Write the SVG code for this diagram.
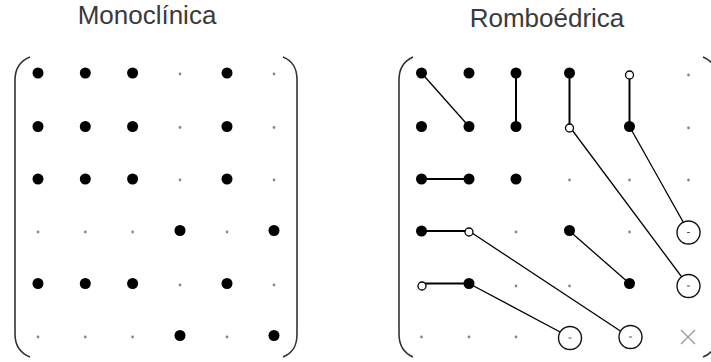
<svg xmlns="http://www.w3.org/2000/svg" width="711" height="362" viewBox="0 0 711 362">
<style>
.t{font-family:"Liberation Sans",Arial,sans-serif;font-size:26px;fill:#3a3a3a;text-anchor:middle}
.b{fill:#000}
.s{fill:#888}
.o{fill:#fff;stroke:#000;stroke-width:1.3}
.c{fill:#fff;stroke:#111;stroke-width:1.4}
.d{stroke:#555;stroke-width:1}
.p{fill:none;stroke:#333;stroke-width:1.6}
.l{stroke:#000;stroke-width:1.3;fill:none}
.lh{stroke:#000;stroke-width:2;fill:none}
.x{stroke:#999;stroke-width:1.2}
</style>
<rect width="711" height="362" fill="#fff"/>
<text class="t" x="147" y="24">Monoclínica</text>
<text class="t" x="547" y="27">Romboédrica</text>

<g id="brackets">
<path class="p" d="M30,57 C20,61 15,68 15,80 V334 C15,346 20,353 30,357"/>
<path class="p" d="M283,57 C293,61 297,68 297,80 V334 C297,346 293,353 283,357"/>
<path class="p" d="M413,57 C404,61 399,68 399,80 V334 C399,346 404,353 413,357"/>
<path class="p" d="M703,57 C713,61 717,68 717,80 V334 C717,346 713,353 703,357"/>
</g>

<g id="mono">
<circle class="b" cx="38" cy="73" r="5.5"/><circle class="b" cx="85.3" cy="73" r="5.5"/><circle class="b" cx="132.6" cy="73" r="5.5"/><circle class="s" cx="180" cy="74" r="1.4"/><circle class="b" cx="227" cy="73" r="5.5"/><circle class="s" cx="274" cy="74" r="1.4"/>
<circle class="b" cx="38" cy="126.5" r="5.5"/><circle class="b" cx="85.3" cy="126.5" r="5.5"/><circle class="b" cx="132.6" cy="126.5" r="5.5"/><circle class="s" cx="180" cy="127.5" r="1.4"/><circle class="b" cx="227" cy="126.5" r="5.5"/><circle class="s" cx="274" cy="127.5" r="1.4"/>
<circle class="b" cx="38" cy="179" r="5.5"/><circle class="b" cx="85.3" cy="179" r="5.5"/><circle class="b" cx="132.6" cy="179" r="5.5"/><circle class="s" cx="180" cy="180" r="1.4"/><circle class="b" cx="227" cy="179" r="5.5"/><circle class="s" cx="274" cy="180" r="1.4"/>
<circle class="s" cx="38" cy="232" r="1.4"/><circle class="s" cx="85.3" cy="232" r="1.4"/><circle class="s" cx="132.6" cy="232" r="1.4"/><circle class="b" cx="180" cy="230.5" r="5.5"/><circle class="s" cx="227" cy="232" r="1.4"/><circle class="b" cx="274" cy="230.5" r="5.5"/>
<circle class="b" cx="38" cy="283.5" r="5.5"/><circle class="b" cx="85.3" cy="283.5" r="5.5"/><circle class="b" cx="132.6" cy="283.5" r="5.5"/><circle class="s" cx="180" cy="285" r="1.4"/><circle class="b" cx="227" cy="283.5" r="5.5"/><circle class="s" cx="274" cy="285" r="1.4"/>
<circle class="s" cx="38" cy="337" r="1.4"/><circle class="s" cx="85.3" cy="337" r="1.4"/><circle class="s" cx="132.6" cy="337" r="1.4"/><circle class="b" cx="180" cy="335.5" r="5.5"/><circle class="s" cx="227" cy="337" r="1.4"/><circle class="b" cx="274" cy="335.5" r="5.5"/>
</g>

<g id="connectors">
<line class="l" x1="421.5" y1="73" x2="469" y2="126.5"/>
<line class="lh" x1="516" y1="73" x2="516" y2="126.5"/>
<line class="lh" x1="569.5" y1="73" x2="569.5" y2="126.5"/>
<line class="lh" x1="629.5" y1="73" x2="629.5" y2="126.5"/>
<line class="l" x1="569.5" y1="126.5" x2="688.5" y2="286"/>
<line class="l" x1="629.5" y1="126.5" x2="688.5" y2="231.5"/>
<line class="lh" x1="421.5" y1="179" x2="469" y2="179"/>
<line class="lh" x1="421.5" y1="231" x2="469" y2="231"/>
<line class="l" x1="469" y1="231" x2="629.5" y2="337"/>
<line class="l" x1="569.5" y1="231" x2="629.5" y2="283.5"/>
<line class="lh" x1="421.5" y1="283.5" x2="469" y2="283.5"/>
<line class="l" x1="469" y1="283.5" x2="569.5" y2="337"/>
</g>

<g id="rombo">
<circle class="b" cx="421.5" cy="73" r="5.5"/><circle class="b" cx="469" cy="73" r="5.5"/><circle class="b" cx="516" cy="73" r="5.5"/><circle class="b" cx="569.5" cy="73" r="5.5"/><circle class="o" cx="629.5" cy="75" r="4"/><circle class="s" cx="688.5" cy="75" r="1.4"/>
<circle class="b" cx="421.5" cy="126.5" r="5.5"/><circle class="b" cx="469" cy="126.5" r="5.5"/><circle class="b" cx="516" cy="126.5" r="5.5"/><circle class="o" cx="569.5" cy="128" r="4"/><circle class="b" cx="629.5" cy="126.5" r="5.5"/><circle class="s" cx="688.5" cy="128" r="1.4"/>
<circle class="b" cx="421.5" cy="179" r="5.5"/><circle class="b" cx="469" cy="179" r="5.5"/><circle class="b" cx="516" cy="179" r="5.5"/><circle class="s" cx="569.5" cy="180" r="1.4"/><circle class="s" cx="629.5" cy="180" r="1.4"/><circle class="s" cx="688.5" cy="180" r="1.4"/>
<circle class="b" cx="421.5" cy="231" r="5.5"/><circle class="o" cx="469" cy="232" r="4"/><circle class="s" cx="516" cy="232" r="1.4"/><circle class="b" cx="569.5" cy="230.5" r="5.5"/><circle class="s" cx="629.5" cy="232" r="1.4"/>
<g id="c53"><circle class="c" cx="688.5" cy="232.5" r="11.5"/><line class="d" x1="687" y1="232.5" x2="690" y2="232.5"/></g>
<circle class="o" cx="422" cy="286" r="4"/><circle class="b" cx="469" cy="283.5" r="5.5"/><circle class="s" cx="516" cy="286" r="1.4"/><circle class="s" cx="569.5" cy="286" r="1.4"/><circle class="b" cx="629.5" cy="283.5" r="5.5"/>
<g id="c54"><circle class="c" cx="688.5" cy="286" r="11.5"/><line class="d" x1="687" y1="286" x2="690" y2="286"/></g>
<circle class="s" cx="421.5" cy="337" r="1.4"/><circle class="s" cx="469" cy="337" r="1.4"/><circle class="s" cx="516" cy="337" r="1.4"/>
<g id="c35"><circle class="c" cx="570" cy="338" r="11.5"/><line class="d" x1="568.5" y1="338" x2="571.5" y2="338"/></g>
<g id="c45"><circle class="c" cx="630.5" cy="337" r="11.5"/><line class="d" x1="629" y1="337" x2="632" y2="337"/></g>
<g id="x55"><line class="x" x1="681" y1="330" x2="695" y2="344"/><line class="x" x1="695" y1="330" x2="681" y2="344"/></g>
</g>
</svg>
